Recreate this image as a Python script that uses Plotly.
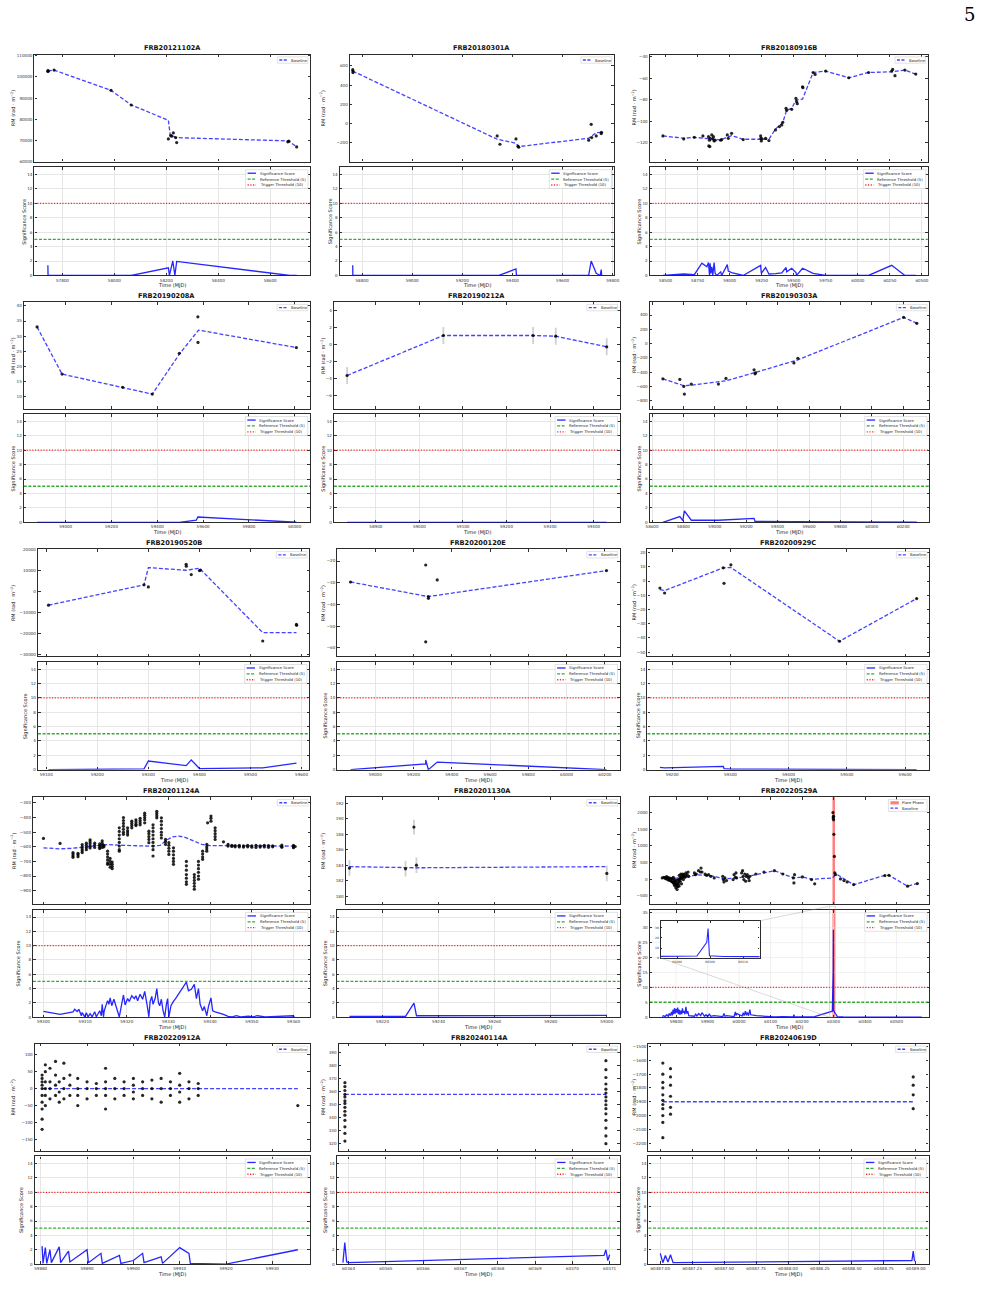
import plotly.graph_objects as go

W, H = 987, 1299
FONT = "DejaVu Sans"
BLUE_BASE = "rgba(20,20,255,0.8)"
BLUE_SIG = "rgba(0,0,255,0.85)"
GREEN = "rgba(0,150,0,0.8)"
RED = "rgba(255,0,0,0.85)"
FLARE = "rgba(255,0,0,0.5)"

# ---------------- FRB20121102A ----------------
p1_t = [57744, 57744.5, 57745, 57768, 57987, 58065, 58208, 58217, 58221, 58227, 58236, 58240, 58668, 58672, 58702]
p1_rm = [102600, 103000, 102800, 103240, 93650, 86730, 70690, 72260, 72000, 73520, 71320, 68960, 69300, 69600, 66920]
p1_base_t = [57744, 57768, 57987, 58065, 58208, 58215, 58227, 58236, 58670, 58702]
p1_base = [102770, 103240, 93650, 86730, 79500, 72500, 72000, 71300, 69750, 66920]
p1_sig_t = [57744, 57744.6, 57768, 57987, 58065, 58208, 58212, 58225, 58233, 58240, 58676, 58702]
p1_sig = [1.4, 0, 0, 0, 0, 1.05, 0, 2.0, 0, 1.95, 0, 0]

# ---------------- FRB20180301A ----------------
p2_t = [58763, 58763.5, 58764, 59339, 59350, 59414, 59422, 59425, 59704, 59714, 59716, 59734, 59754, 59755]
p2_rm = [560, 545, 530, -128, -214, -159, -234, -245, -172, -7, -145, -128, -103, -90]
p2_base_t = [58763, 59339, 59414, 59425, 59704, 59734, 59756]
p2_base = [545, -162, -203, -238, -152, -93, -90]
p2_sig_t = [58763, 58763.5, 59346, 59414, 59416, 59704, 59714, 59734, 59750, 59754, 59756]
p2_sig = [1.4, 0, 0, 0.9, 0, 0.05, 2.0, 0.3, 0, 0.8, 0]

# ---------------- FRB20180916B ----------------
p3_t = [58479.4, 58641.6, 58724.0, 58791.0, 58834.8, 58837.3, 58842.5, 58845.0, 58847.6, 58860.5,
        58868.2, 58873.4, 58878.5, 58886.3, 58930.0, 58937.8, 58981.5, 58989.3, 59015.0, 59105.1,
        59241.6, 59244.0, 59246.8, 59251.9, 59280.2, 59306.0, 59357.5, 59388.4, 59406.4, 59414.1,
        59439.9, 59445.0, 59483.7, 59517.1, 59522.3, 59527.4, 59568.6, 59571.2, 59651.0, 59666.5,
        59748.9, 59929.1, 60083.6, 60263.9, 60271.6, 60289.6, 60366.9, 60451.9]
p3_rm = [-113.5, -116.3, -114.8, -113.5, -114.2, -122.8, -117.5, -123.4, -115.7, -112.6,
         -116.3, -114.2, -118.2, -117.5, -117.5, -116.9, -112.6, -115.7, -111.1, -116.9,
         -113.5, -115.7, -118.2, -116.3, -115.7, -117.8, -108.0, -104.9, -103.4, -100.9,
         -88.0, -89.8, -88.9, -78.8, -81.8, -83.7, -68.0, -68.9, -54.8, -56.6,
         -53.5, -59.7, -54.8, -53.5, -52.0, -57.8, -52.6, -56.3]
p3_base_t = [58479.4, 58641.6, 58724.0, 58834.8, 58925.0, 59015.0, 59105.1, 59241.6, 59306.0, 59357.5, 59414.1,
             59445.0, 59483.7, 59517.1, 59568.6, 59651.0, 59748.9, 59929.1, 60083.6, 60263.9, 60366.9, 60451.9]
p3_base = [-113.5, -115.7, -114.8, -116.3, -117.2, -113.2, -116.6, -116.6, -116.6, -107.1, -101.2,
           -89.5, -88.0, -80.3, -79.4, -54.8, -53.5, -59.7, -54.8, -54.2, -52.6, -56.3]
p3_sig_t = [58479.4, 58641.6, 58724.0, 58783.2, 58821.9, 58834.8, 58842.5, 58847.6, 58852.8, 58860.5,
            58868.2, 58878.5, 58886.3, 58899.1, 58930.0, 58937.8, 58981.5, 58989.3, 59015.0, 59105.1,
            59241.6, 59246.8, 59280.2, 59306.0, 59357.5, 59406.4, 59439.9, 59445.0, 59483.7, 59517.1,
            59522.3, 59568.6, 59651.0, 59748.9, 59929.1, 60083.6, 60263.9, 60366.9, 60451.9]
p3_sig = [0, 0.2, 0.1, 1.7, 1.2, 1.8, 0, 1.7, 0.3, 1.2,
          0, 1.8, 0.3, 0, 0.5, 0, 1.5, 0.6, 0.4, 0,
          1.4, 0.3, 1.1, 0.2, 0.25, 0.35, 1.1, 0.5, 1.0, 0.4,
          0, 1.0, 0.3, 0, 0, 0, 1.4, 0, 0]

# ---------------- FRB20190208A ----------------
p4_t = [58875, 58984, 59249, 59378, 59496, 59577, 59577.5, 60007]
p4_rm = [33.05, 17.4, 13.0, 10.75, 24.3, 36.4, 27.9, 26.2]
p4_base_t = [58875, 58984, 59378, 59496, 59580, 60007]
p4_base = [33.05, 17.4, 10.75, 24.0, 32.0, 26.2]
p4_sig_t = [58875, 58984, 59249, 59378, 59496, 59570, 59577, 60007]
p4_sig = [0, 0, 0, 0, 0, 0.3, 0.75, 0.02]

# ---------------- FRB20190212A ----------------
p5_t = [58834, 59055, 59261, 59313, 59430]
p5_rm = [-3.65, 1.06, 1.06, 0.98, -0.27]
p5_err = [1.0, 1.0, 1.0, 1.0, 1.0]
p5_base = [-3.65, 1.06, 1.06, 0.98, -0.27]
p5_sig = [0, 0, 0, 0, 0]

# ---------------- FRB20190303A ----------------
p6_t = [58669, 58777, 58802, 58806, 58850, 59023, 59071, 59250, 59256, 59260, 59504, 59529, 60203, 60287]
p6_rm = [-493, -502, -600, -707, -567, -567, -488, -367, -423, -409, -270, -205, 367, 284]
p6_base_t = [58669, 58802, 58850, 59071, 59256, 59529, 60203, 60287]
p6_base = [-493, -590, -581, -521, -405, -228, 367, 284]
p6_sig_t = [58669, 58777, 58796, 58806, 58850, 59023, 59250, 59256, 59504, 60287]
p6_sig = [0, 0.8, 0.25, 1.6, 0.3, 0.3, 0.55, 0.15, 0.1, 0.02]

# ---------------- FRB20190520B ----------------
p7_t = [59104.5, 59291.5, 59300, 59374, 59374.3, 59384, 59400, 59402, 59524, 59590, 59590.3]
p7_rm = [-6490, 3160, 2200, 12970, 12030, 8070, 9970, 10200, -23580, -15660, -16100]
p7_base_t = [59104.5, 59291.5, 59300, 59374, 59400, 59524, 59590]
p7_base = [-6490, 3160, 11390, 10130, 11080, -19620, -19620]
p7_sig_t = [59104.5, 59291.5, 59300, 59374, 59384, 59400, 59524, 59590]
p7_sig = [0, 0.1, 1.2, 0.55, 1.35, 0.15, 0.25, 0.9]

# ---------------- FRB20200120E ----------------
p8_t = [58870.7, 59263.8, 59263.9, 59277.6, 59278, 59324, 60208.6]
p8_rm = [-29.66, -21.84, -57.24, -36.4, -37.2, -28.7, -24.4]
p8_base_t = [58870.7, 59277.6, 60208.6]
p8_base = [-29.66, -36.4, -24.4]
p8_sig_t = [58870.7, 59263.8, 59264, 59270, 59277.6, 59324, 60208.6]
p8_sig = [0, 0.8, 1.35, 0.6, 0, 1.05, 0]

# ---------------- FRB20200929C ----------------
p9_t = [59179, 59187, 59287.8, 59289, 59300.8, 59487.3, 59619.8]
p9_rm = [-4.9, -8.4, 9.3, -1.6, 11.4, -42.3, -12.3]
p9_base = [-6.0, -6.7, 9.3, 9.3, 9.5, -42.3, -12.3]
p9_sig = [0.3, 0.25, 0.45, 0.15, 0.08, 0.02, 0]

# ---------------- FRB20201124A ----------------
p10_groups = [
    (59300.0, [-543]), (59304.0, [-577]),
    (59307.1, [-640, -650, -662, -672]), (59308.3, [-645, -655, -668]),
    (59309.3, [-585, -600, -615, -628, -640]), (59310.3, [-575, -590, -605, -620]),
    (59311.2, [-552, -565, -580, -595, -608]), (59312.3, [-575, -590, -605]),
    (59313.5, [-580, -592, -604, -612]), (59314.1, [-560, -575, -590, -605]),
    (59314.5, [-590, -600]), (59315.4, [-630, -650, -670, -690, -710, -720]),
    (59316.0, [-680, -700, -720, -740]), (59316.5, [-705, -720, -735, -750]),
    (59318.2, [-470, -495, -520, -545, -570, -595, -620, -630]),
    (59319.2, [-400, -420, -440, -460, -480, -500, -515]),
    (59320.2, [-470, -490, -505, -520]), (59321.2, [-425, -440, -455, -470]),
    (59322.2, [-415, -430, -445, -455]), (59323.2, [-405, -420, -435, -450]),
    (59324.3, [-370, -385, -400, -415, -436]), (59325.3, [-493, -510, -530, -550, -572]),
    (59326.3, [-450, -470, -495, -520, -545, -570, -595, -620, -663]),
    (59327.2, [-357, -372, -387, -402]), (59328.3, [-402, -425, -450, -475, -500, -520, -540]),
    (59329.3, [-550, -565, -584]), (59330.1, [-572, -590, -610, -630, -652]),
    (59331.2, [-607, -630, -655, -680, -700, -720]),
    (59334.3, [-700, -730, -760, -790, -815, -840, -857]),
    (59336.2, [-790, -810, -830, -850, -870, -890]),
    (59337.2, [-700, -725, -750, -775, -800, -822]),
    (59338.2, [-630, -650, -670, -686]), (59339.2, [-584, -600, -615, -630]),
    (59339.4, [-436]), (59340.2, [-390, -405, -425]), (59341.2, [-470, -490, -510, -530, -550]),
    (59343.2, [-566]), (59344.3, [-584, -595]), (59345.2, [-590, -598]), (59346.0, [-592, -600]),
    (59347.0, [-591, -601]), (59348.0, [-594, -602]), (59349.0, [-590, -600]), (59350.0, [-593, -603]),
    (59351.0, [-591, -605]), (59352.0, [-594, -602]), (59353.0, [-590, -601]), (59354.0, [-592, -604]),
    (59355.0, [-593, -600]), (59357.2, [-588, -598, -604]), (59360.0, [-590, -600, -606]), (59360.4, [-598]),
]
p10_base_t = [59300, 59304, 59307, 59310, 59313.5, 59315.5, 59318, 59322, 59326, 59328, 59329.5, 59331,
              59332.5, 59334, 59336, 59338, 59340, 59344, 59350, 59360.4]
p10_base = [-607, -614, -610, -600, -588, -585, -589, -594, -596, -590, -555, -532,
            -527, -535, -560, -584, -592, -594, -594, -595]
p10_sig_t = [59300.0, 59304.0, 59307.1, 59307.5, 59308.1, 59308.5, 59309.1, 59309.3, 59309.9, 59310.3,
             59310.7, 59311.2, 59311.7, 59312.3, 59312.7, 59313.5, 59313.9, 59314.1, 59314.4, 59314.6,
             59315.2, 59315.4, 59315.7, 59316.0, 59316.4, 59316.9, 59318.2, 59318.7, 59319.2, 59319.6,
             59320.2, 59320.6, 59321.2, 59321.8, 59322.2, 59322.6, 59323.2, 59323.8, 59324.3, 59324.9,
             59325.3, 59325.6, 59326.0, 59326.3, 59326.8, 59327.2, 59327.6, 59327.9, 59328.3, 59328.7,
             59329.1, 59329.5, 59329.8, 59330.1, 59330.6, 59331.2, 59331.7, 59334.3, 59334.8, 59335.5,
             59336.2, 59336.7, 59337.2, 59337.6, 59338.2, 59338.6, 59339.2, 59339.6, 59340.2, 59340.6,
             59341.2, 59343.2, 59344.3, 59345.3, 59346.3, 59347.3, 59349.2, 59350.3, 59351.3, 59353.2,
             59357.2, 59360.0, 59360.2]
p10_sig = [0.8, 0.4, 0.75, 1.1, 0.8, 1.1, 0.2, 0.65, 0.05, 0.6,
           0.05, 0.5, 0.05, 0.75, 0.05, 0.9, 0.2, 1.8, 0.05, 0.9,
           2.0, 2.3, 1.8, 2.7, 1.6, 2.5, 0.05, 1.5, 3.1, 1.7,
           2.6, 2.2, 3.0, 2.6, 3.0, 2.3, 3.2, 2.5, 3.6, 1.6,
           0.05, 2.2, 2.9, 1.8, 2.6, 4.0, 2.0, 1.6, 2.5, 0.9,
           0.05, 1.8, 2.6, 0.05, 1.6, 2.2, 2.6, 4.9, 3.7, 3.9,
           4.6, 2.6, 4.0, 1.8, 0.9, 1.5, 0.2, 1.5, 2.7, 0.9,
           0.75, 0.4, 0.1, 0.05, 0.2, 0.05, 0.15, 0.05, 0.2, 0.05,
           0.1, 0.2, 0.05]

# ---------------- FRB20201130A ----------------
p11_t = [59208.2, 59228.2, 59231.2, 59232.1, 59300]
p11_rm = [183.66, 183.57, 188.95, 184.04, 182.97]
p11_err = [1.0, 1.0, 0.95, 1.0, 1.0]
p11_base = [183.85, 183.7, 183.7, 183.7, 183.85]
p11_sig = [0.1, 0.1, 1.95, 0.2, 0.25]

# ---------------- FRB20220529A ----------------
p12_groups = [
    (59756, [40]), (59761, [59]), (59766, [20, 60]), (59770, [79, 10]), (59774, [-10, 50]), (59777, [40, -30]),
    (59782, [-40, 30]), (59785, [10, -60]), (59788, [-79, 20]), (59791, [59, -100]), (59793, [-138, 0]),
    (59795, [-188, -50]), (59797, [-59, -150]), (59799, [-257, -100]), (59801, [-158, -30]), (59803, [-306, -200]),
    (59805, [-109, -220]), (59807, [-10, -150]), (59809, [-207, -80]), (59810, [119, 0]), (59813, [-59, 50]),
    (59815, [158, 20]), (59817, [-138, 60]), (59819, [40, 120]), (59821, [158, 80]), (59823, [-10, 100]),
    (59825, [89, 150]), (59828, [59]), (59831, [188, 100]), (59835, [138]), (59838, [217]), (59840, [89]),
    (59858, [188]), (59861, [138]), (59864, [158]), (59871, [257]), (59877, [217]), (59879, [336]), (59882, [217]),
    (59892, [158]), (59897, [119]), (59903, [138]), (59910, [89]), (59921, [40]),
    (59948, [89]), (59950, [-10]), (59952, [-79]), (59955, [40]), (59960, [-40]),
    (59981, [-10]), (59984, [138]), (59988, [59]), (59990, [188]), (59992, [40]),
    (60008, [188]), (60011, [257]), (60013, [89]), (60015, [-10]), (60018, [158]), (60021, [-59]),
    (60023, [89]), (60026, [138]), (60030, [40]), (60032, [-40]), (60034, [89]),
    (60053, [158]), (60079, [217]), (60112, [257]), (60139, [158]), (60172, [40]), (60174, [-109]), (60176, [138]),
    (60201, [69]), (60230, [-10]), (60240, [-138]),
    (60298, [1996]), (60299, [1867, 1818]), (60300, [1887, 1780]), (60301, [1344]), (60302.5, [682]),
    (60304, [188]), (60306, [138]),
    (60322, [10]), (60333, [-40]), (60343, [-79]), (60364, [-158]), (60463, [109]), (60476, [119]),
    (60535, [-207]), (60566, [-128]),
]
p12_base_t = [59756, 59782, 59833, 59864, 59921, 59950, 59992, 60026, 60053, 60112, 60139, 60174, 60201, 60230,
              60297, 60306, 60312, 60364, 60463, 60476, 60535, 60566]
p12_base = [40, 20, 59, 138, 89, 10, 40, 79, 138, 257, 158, 40, 69, 0,
            40, 138, 138, -165, 119, 119, -207, -128]
p12_sig_t = [59756, 59760, 59765, 59770, 59775, 59778, 59782, 59785, 59788, 59790, 59792, 59795, 59797, 59800,
             59802, 59805, 59807, 59810, 59812, 59815, 59818, 59820, 59822, 59825, 59828, 59831, 59834, 59837,
             59840, 59858, 59862, 59866, 59872, 59878, 59882, 59890, 59895, 59900, 59905, 59910, 59920, 59948,
             59952, 59955, 59960, 59984, 59988, 59990, 59993, 60010, 60013, 60016, 60020, 60023, 60026, 60030,
             60034, 60037, 60055, 60080, 60112, 60139, 60172, 60174, 60176, 60200, 60230, 60240, 60296, 60299.0,
             60299.4, 60299.8, 60304, 60312, 60330, 60370, 60470, 60566, 60580]
p12_sig = [0.2, 0.5, 0.2, 0.8, 0.3, 1.2, 0.5, 1.8, 0.6, 2.5, 1.0, 3.0, 1.2, 2.8,
           1.5, 3.2, 1.0, 2.5, 0.8, 2.2, 1.0, 3.0, 1.5, 2.0, 1.0, 3.5, 1.2, 2.0,
           0.5, 0.3, 1.0, 0.4, 1.2, 0.5, 1.5, 0.3, 0.8, 0.2, 1.0, 0.3, 0.5, 0.2,
           1.2, 0.3, 0.5, 0.2, 1.8, 0.6, 1.2, 0.4, 1.5, 0.5, 2.0, 0.6, 1.6, 0.5,
           2.5, 0.8, 0.5, 0.3, 0.1, 0.2, 0.1, 0.8, 0.1, 0.1, 0.3, 0.2, 2.0, 15.7,
           29.3, 2.3, 1.5, 0.2, 0.1, 0.1, 0.05, 0.05, 0]
p12_flare = [60296.5, 60304.5]

# ---------------- FRB20220912A ----------------
p13_groups = [
    (59880.3, [-120, -90, -60, -40, -20, 0, 10, 20, 30, 40]), (59881.0, [-50, -20, 0, 20, 50, 70]),
    (59882.0, [-30, 0, 20, 60]), (59883.2, [-20, 10, 40, 80]), (59884.0, [-40, -10, 20]),
    (59885.0, [-30, 0, 30, 75]), (59886.3, [-20, 10, 40]), (59888.0, [-50, -20, 0, 30]),
    (59890.0, [-30, 0, 20]), (59892.0, [-20, 0, 15]), (59894.0, [-60, -20, 0, 20, 60]),
    (59896.0, [-30, 0, 30]), (59898.0, [-20, 0, 20]), (59900.0, [-30, -10, 10, 30]),
    (59902.0, [-20, 0, 20]), (59904.0, [-30, 0, 25]), (59906.0, [-40, 0, 30]), (59908.0, [-20, 0, 20]),
    (59910.0, [-40, -10, 10, 45]), (59912.0, [-30, 0, 20]), (59914.0, [-20, 0, 15]), (59935.5, [-50]),
]
p13_base_t = [59880.3, 59935.5]
p13_base = [0, 0]
p13_sig_t = [59880.3, 59880.5, 59881.0, 59881.3, 59882.0, 59882.3, 59884.0, 59884.3, 59886.0, 59886.3, 59890.0,
             59890.3, 59893.0, 59893.3, 59897.0, 59897.3, 59900.0, 59902.0, 59902.3, 59906.0, 59906.3, 59910.0,
             59912.0, 59912.3, 59920.0, 59935.5]
p13_sig = [2.5, 0.1, 2.3, 0.1, 2.0, 0.2, 2.4, 0.2, 1.8, 0.3, 2.0,
           0.2, 1.5, 0.1, 1.2, 0.1, 0.5, 1.5, 0.2, 1.0, 0.1, 2.3,
           1.5, 0.1, 0.0, 2.0]

# ---------------- FRB20240114A ----------------
p14_groups = [
    (60363.9, [322, 328, 333, 338, 342, 345, 348, 351, 353, 356, 358, 361, 364, 367]),
    (60370.9, [320, 326, 332, 338, 343, 347, 350, 353, 356, 359, 362, 366, 371, 377, 384, 392]),
]
p14_base_t = [60363.9, 60370.9]
p14_base = [358, 358]
p14_sig_t = [60363.85, 60363.9, 60363.95, 60364.0, 60370.85, 60370.9, 60370.95, 60371.0]
p14_sig = [0.2, 3.0, 0.3, 0.2, 1.2, 2.0, 0.5, 1.3]

# ---------------- FRB20240619D ----------------
p15_groups = [
    (60487.02, [-1620, -1700, -1760, -1800, -1850, -1890, -1920, -1950, -2000, -2050, -2160]),
    (60487.08, [-1660, -1720, -1780, -1860, -1940, -1990]),
    (60488.98, [-1720, -1780, -1850, -1950]),
]
p15_base_t = [60487.02, 60488.98]
p15_base = [-1900, -1900]
p15_sig_t = [60487.0, 60487.02, 60487.04, 60487.06, 60487.08, 60487.1, 60488.97, 60488.98, 60488.99]
p15_sig = [1.5, 0.2, 1.2, 0.3, 1.3, 0.2, 0.5, 1.8, 0.4]


def flatten(groups):
    ts, vs = [], []
    for t, vals in groups:
        for v in vals:
            ts.append(t)
            vs.append(v)
    return ts, vs


p10_t, p10_rm = flatten(p10_groups)
p12_t, p12_rm = flatten(p12_groups)
p13_t, p13_rm = flatten(p13_groups)
p14_t, p14_rm = flatten(p14_groups)
p15_t, p15_rm = flatten(p15_groups)

SIG_YT = [0, 2, 4, 6, 8, 10, 12, 14]

ROW_RM = [(52.7, 160.0), (301.0, 408.3), (549.0, 656.5), (797.7, 905.0), (1045.0, 1153.0)]
ROW_SIG = [(165.7, 274.3), (413.3, 522.0), (662.0, 770.0), (910.7, 1018.3), (1158.0, 1266.0)]

PANELS = [
    dict(title="FRB20121102A", row=0, rm_x=(30.7, 309.3), sig_x=(30.7, 309.3),
         rm_xr=(57692, 58754), sig_xr=(57692, 58754), rm_yr=(60000, 110600),
         rm_yt=[60000, 70000, 80000, 90000, 100000, 110000], xt=[57800, 58000, 58200, 58400, 58600],
         rm_lab=9.3, sig_lab=20.7, t=p1_t, rm=p1_rm, err=None, bt=p1_base_t, b=p1_base, st=p1_sig_t, s=p1_sig),
    dict(title="FRB20180301A", row=0, rm_x=(349.3, 616.0), sig_x=(339.0, 616.0),
         rm_xr=(58751, 59804), sig_xr=(58710.5, 59804), rm_yr=(-393, 717),
         rm_yt=[-200, 0, 200, 400, 600], xt=[58800, 59000, 59200, 59400, 59600, 59800],
         rm_lab=321.7, sig_lab=329.3, t=p2_t, rm=p2_rm, err=None, bt=p2_base_t, b=p2_base, st=p2_sig_t, s=p2_sig),
    dict(title="FRB20180916B", row=0, rm_x=(652.3, 933.3), sig_x=(652.3, 933.3),
         rm_xr=(58376, 60546), sig_xr=(58376, 60546), rm_yr=(-137.2, -38.2),
         rm_yt=[-120, -100, -80, -60, -40], xt=[58500, 58750, 59000, 59250, 59500, 59750, 60000, 60250, 60500],
         rm_lab=636.0, sig_lab=641.7, t=p3_t, rm=p3_rm, err=None, bt=p3_base_t, b=p3_base, st=p3_sig_t, s=p3_sig),
    dict(title="FRB20190208A", row=1, rm_x=(20.0, 309.0), sig_x=(20.0, 309.0),
         rm_xr=(58817, 60066), sig_xr=(58817, 60066), rm_yr=(5.8, 41.3),
         rm_yt=[10, 15, 20, 25, 30, 35, 40], xt=[59000, 59200, 59400, 59600, 59800, 60000],
         rm_lab=8.3, sig_lab=9.3, t=p4_t, rm=p4_rm, err=None, bt=p4_base_t, b=p4_base, st=p4_sig_t, s=p4_sig),
    dict(title="FRB20190212A", row=1, rm_x=(333.3, 622.0), sig_x=(333.3, 622.0),
         rm_xr=(58803.8, 59459.8), sig_xr=(58803.8, 59459.8), rm_yr=(-7.6, 5.0),
         rm_yt=[-6, -4, -2, 0, 2, 4], xt=[58900, 59000, 59100, 59200, 59300, 59400],
         rm_lab=321.7, sig_lab=322.7, t=p5_t, rm=p5_rm, err=p5_err, bt=p5_t, b=p5_base, st=p5_t, s=p5_sig),
    dict(title="FRB20190303A", row=1, rm_x=(652.3, 934.7), sig_x=(652.3, 934.7),
         rm_xr=(58585, 60366), sig_xr=(58585, 60366), rm_yr=(-916, 581),
         rm_yt=[-800, -600, -400, -200, 0, 200, 400],
         xt=[58600, 58800, 59000, 59200, 59400, 59600, 59800, 60000, 60200],
         rm_lab=636.0, sig_lab=641.7, t=p6_t, rm=p6_rm, err=None, bt=p6_base_t, b=p6_base, st=p6_sig_t, s=p6_sig),
    dict(title="FRB20190520B", row=2, rm_x=(34.3, 308.3), sig_x=(34.3, 308.3),
         rm_xr=(59083.8, 59614.9), sig_xr=(59083.8, 59614.9), rm_yr=(-30950, 20100),
         rm_yt=[-30000, -20000, -10000, 0, 10000, 20000], xt=[59100, 59200, 59300, 59400, 59500, 59600],
         rm_lab=9.3, sig_lab=21.7, t=p7_t, rm=p7_rm, err=None, bt=p7_base_t, b=p7_base, st=p7_sig_t, s=p7_sig),
    dict(title="FRB20200120E", row=2, rm_x=(336.7, 622.0), sig_x=(336.7, 622.0),
         rm_xr=(58801.7, 60277.6), sig_xr=(58801.7, 60277.6), rm_yr=(-64, -14.6),
         rm_yt=[-60, -50, -40, -30, -20], xt=[59000, 59200, 59400, 59600, 59800, 60000, 60200],
         rm_lab=321.7, sig_lab=325.0, t=p8_t, rm=p8_rm, err=None, bt=p8_base_t, b=p8_base, st=p8_sig_t, s=p8_sig),
    dict(title="FRB20200929C", row=2, rm_x=(650.0, 934.7), sig_x=(650.0, 934.7),
         rm_xr=(59157.5, 59641.4), sig_xr=(59157.5, 59641.4), rm_yr=(-53, 22.3),
         rm_yt=[-50, -40, -30, -20, -10, 0, 10, 20], xt=[59200, 59300, 59400, 59500, 59600],
         rm_lab=636.0, sig_lab=641.0, t=p9_t, rm=p9_rm, err=None, bt=p9_t, b=p9_base, st=p9_t, s=p9_sig),
    dict(title="FRB20201124A", row=3, rm_x=(29.3, 309.3), sig_x=(29.3, 309.3),
         rm_xr=(59297.5, 59364), sig_xr=(59297.5, 59364), rm_yr=(-993, -261),
         rm_yt=[-900, -800, -700, -600, -500, -400, -300], xt=[59300, 59310, 59320, 59330, 59340, 59350, 59360],
         rm_lab=9.3, sig_lab=15.0, t=p10_t, rm=p10_rm, err=None, bt=p10_base_t, b=p10_base, st=p10_sig_t, s=p10_sig),
    dict(title="FRB20201130A", row=3, rm_x=(345.0, 622.0), sig_x=(336.0, 622.0),
         rm_xr=(59206.8, 59304.6), sig_xr=(59203.6, 59304.6), rm_yr=(179.0, 192.8),
         rm_yt=[180, 182, 184, 186, 188, 190, 192], xt=[59220, 59240, 59260, 59280, 59300],
         rm_lab=321.7, sig_lab=325.0, t=p11_t, rm=p11_rm, err=p11_err, bt=p11_t, b=p11_base, st=p11_t, s=p11_sig),
    dict(title="FRB20220529A", row=3, rm_x=(652.3, 934.7), sig_x=(652.3, 934.7),
         rm_xr=(59716, 60603.8), sig_xr=(59716, 60603.8), rm_yr=(-747, 2455),
         rm_yt=[-500, 0, 500, 1000, 1500, 2000], xt=[59800, 59900, 60000, 60100, 60200, 60300, 60400, 60500],
         rm_lab=636.0, sig_lab=641.7, t=p12_t, rm=p12_rm, err=None, bt=p12_base_t, b=p12_base, st=p12_sig_t,
         s=p12_sig, sig_yr=(0, 36), sig_yt=[0, 5, 10, 15, 20, 25, 30, 35]),
    dict(title="FRB20220912A", row=4, rm_x=(31.0, 309.0), sig_x=(31.0, 309.0),
         rm_xr=(59878.7, 59938.1), sig_xr=(59878.7, 59938.1), rm_yr=(-185, 132),
         rm_yt=[-150, -100, -50, 0, 50, 100], xt=[59880, 59890, 59900, 59910, 59920, 59930],
         rm_lab=9.0, sig_lab=17.0, t=p13_t, rm=p13_rm, err=None, bt=p13_base_t, b=p13_base, st=p13_sig_t, s=p13_sig),
    dict(title="FRB20240114A", row=4, rm_x=(338.0, 622.0), sig_x=(336.0, 622.0),
         rm_xr=(60363.73, 60371.27), sig_xr=(60363.68, 60371.27), rm_yr=(314, 397),
         rm_yt=[320, 330, 340, 350, 360, 370, 380, 390],
         xt=[60364, 60365, 60366, 60367, 60368, 60369, 60370, 60371],
         rm_lab=322.0, sig_lab=325.0, t=p14_t, rm=p14_rm, err=None, bt=p14_base_t, b=p14_base, st=p14_sig_t, s=p14_sig),
    dict(title="FRB20240619D", row=4, rm_x=(651.0, 934.0), sig_x=(651.0, 934.0),
         rm_xr=(60486.907, 60489.1), sig_xr=(60486.907, 60489.1), rm_yr=(-2260, -1480),
         rm_yt=[-2200, -2100, -2000, -1900, -1800, -1700, -1600, -1500],
         xt=[60487.0, 60487.25, 60487.5, 60487.75, 60488.0, 60488.25, 60488.5, 60488.75, 60489.0], xfmt=".2f",
         rm_lab=636.0, sig_lab=641.0, t=p15_t, rm=p15_rm, err=None, bt=p15_base_t, b=p15_base, st=p15_sig_t, s=p15_sig),
]

fig = go.Figure()
layout = {}
shapes = []
annotations = []


def px_x(px):
    return px / W


def px_y(py):
    return 1 - py / H


def add_axes(n, xdom, ydom, xr, yr, xtv, ytv, xfmt, yfmt, show_x, grid, tick_fs=4.1, layer="below traces"):
    xk = "xaxis" if n == 1 else f"xaxis{n}"
    yk = "yaxis" if n == 1 else f"yaxis{n}"
    xa = "x" if n == 1 else f"x{n}"
    ya = "y" if n == 1 else f"y{n}"
    common = dict(ticks="inside", ticklen=2.5, tickwidth=0.7, tickcolor="#333333",
                  mirror="allticks", showline=True, linewidth=1.3, linecolor="#2b2b2b",
                  zeroline=False, showgrid=grid, gridcolor="#e6e6e6", gridwidth=0.6,
                  tickfont=dict(family=FONT, size=tick_fs, color="#333333"), fixedrange=True, layer=layer)
    layout[xk] = dict(common, domain=[px_x(xdom[0]), px_x(xdom[1])], range=list(xr), tickvals=xtv,
                      tickformat=xfmt, showticklabels=show_x, anchor=ya)
    layout[yk] = dict(common, domain=[px_y(ydom[1]), px_y(ydom[0])], range=list(yr), tickvals=ytv,
                      tickformat=yfmt, anchor=xa)
    return xa, ya


def legend_box(right, top, width, entries, row_h, fs=3.8):
    x0 = right - width
    y1 = top + row_h * len(entries) + 1.2
    shapes.append(dict(type="rect", xref="paper", yref="paper", x0=px_x(x0), x1=px_x(right),
                       y0=px_y(y1), y1=px_y(top), line=dict(color="#cfcfcf", width=0.6),
                       fillcolor="rgba(255,255,255,0.9)", layer="above"))
    for k, (label, kind, color, dash) in enumerate(entries):
        yc = top + 0.6 + row_h * (k + 0.5)
        lx0, lx1 = x0 + 2.0, x0 + 10.5
        if kind == "patch":
            shapes.append(dict(type="rect", xref="paper", yref="paper", x0=px_x(lx0), x1=px_x(lx1),
                               y0=px_y(yc + 1.6), y1=px_y(yc - 1.6), line=dict(width=0),
                               fillcolor=color, layer="above"))
        else:
            shapes.append(dict(type="line", xref="paper", yref="paper", x0=px_x(lx0), x1=px_x(lx1),
                               y0=px_y(yc), y1=px_y(yc), line=dict(color=color, width=1.3, dash=dash),
                               layer="above"))
        annotations.append(dict(x=px_x(lx1 + 1.5), y=px_y(yc), xref="paper", yref="paper", text=label,
                                showarrow=False, xanchor="left", yanchor="middle",
                                font=dict(family=FONT, size=fs, color="#222222")))


for i, p in enumerate(PANELS):
    nr, ns = 2 * i + 1, 2 * i + 2
    r = p["row"]
    xfmt = p.get("xfmt", "d")
    rm_top, rm_bot = ROW_RM[r]
    sg_top, sg_bot = ROW_SIG[r]
    xa, ya = add_axes(nr, p["rm_x"], ROW_RM[r], p["rm_xr"], p["rm_yr"], p["xt"], p["rm_yt"],
                      xfmt, "d", False, False)
    xs, ys = add_axes(ns, p["sig_x"], ROW_SIG[r], p["sig_xr"], p.get("sig_yr", (0, 15)), p["xt"],
                      p.get("sig_yt", SIG_YT), xfmt, "d", True, i != 11)

    # RM panel
    if p["err"] is not None:
        fig.add_trace(go.Scatter(x=p["t"], y=p["rm"], mode="markers", xaxis=xa, yaxis=ya, showlegend=False,
                                 marker=dict(color="rgba(0,0,0,0)", size=1),
                                 error_y=dict(type="data", array=p["err"], color="rgba(170,170,170,0.55)",
                                              thickness=1.8, width=0)))
    fig.add_trace(go.Scatter(x=p["bt"], y=p["b"], mode="lines", xaxis=xa, yaxis=ya, showlegend=False,
                             line=dict(color=BLUE_BASE, width=1.3, dash="4px,2px")))
    fig.add_trace(go.Scatter(x=p["t"], y=p["rm"], mode="markers", xaxis=xa, yaxis=ya, showlegend=False,
                             marker=dict(color="rgba(0,0,0,0.85)", size=3.2, line=dict(width=0))))
    # Significance panel
    fig.add_trace(go.Scatter(x=p["st"], y=p["s"], mode="lines", xaxis=xs, yaxis=ys, showlegend=False,
                             line=dict(color=BLUE_SIG, width=1.3)))
    for lvl, col, dash in [(5, GREEN, "3px,1.6px"), (10, RED, "1.2px,1.6px")]:
        shapes.append(dict(type="line", xref=f"{xs} domain", yref=ys, x0=0, x1=1, y0=lvl, y1=lvl,
                           line=dict(color=col, width=1.3, dash=dash), layer="above"))

    # texts
    cx = (p["rm_x"][0] + p["rm_x"][1]) / 2
    annotations.append(dict(x=px_x(cx), y=px_y(rm_top - 6.3), xref="paper", yref="paper",
                            text=f"<b>{p['title']}</b>", showarrow=False, xanchor="center", yanchor="middle",
                            font=dict(family=FONT, size=6.6, color="#111111")))
    annotations.append(dict(x=px_x(p["rm_lab"]), y=px_y((rm_top + rm_bot) / 2), xref="paper", yref="paper",
                            text="RM (rad · m<sup>−2</sup>)", showarrow=False, textangle=-90,
                            xanchor="center", yanchor="middle", font=dict(family=FONT, size=5.0, color="#222222")))
    annotations.append(dict(x=px_x(p["sig_lab"]), y=px_y((sg_top + sg_bot) / 2), xref="paper", yref="paper",
                            text="Significance Score", showarrow=False, textangle=-90,
                            xanchor="center", yanchor="middle", font=dict(family=FONT, size=5.0, color="#222222")))
    scx = (p["sig_x"][0] + p["sig_x"][1]) / 2
    annotations.append(dict(x=px_x(scx), y=px_y(sg_bot + 10.0), xref="paper", yref="paper",
                            text="Time (MJD)", showarrow=False, xanchor="center", yanchor="middle",
                            font=dict(family=FONT, size=5.0, color="#222222")))

    # legends
    if i == 11:
        legend_box(p["rm_x"][1] - 2.2, rm_top + 2.3, 39,
                   [("Flare Phase", "patch", FLARE, None), ("Baseline", "line", BLUE_BASE, "3px,1.5px")], 5.4)
    else:
        legend_box(p["rm_x"][1] - 2.2, rm_top + 2.3, 31, [("Baseline", "line", BLUE_BASE, "3px,1.5px")], 5.2)
    legend_box(p["sig_x"][1] - 2.2, sg_top + 2.5, 63,
               [("Significance Score", "line", BLUE_SIG, "solid"),
                ("Reference Threshold (5)", "line", GREEN, "3px,1.5px"),
                ("Trigger Threshold (10)", "line", RED, "1.2px,1.5px")], 5.9)

    if i == 11:
        for ax in [(xa, ya), (xs, ys)]:
            shapes.append(dict(type="rect", xref=ax[0], yref=f"{ax[1]} domain", x0=p12_flare[0], x1=p12_flare[1],
                               y0=0, y1=1, fillcolor=FLARE, line=dict(width=0), layer="below"))

# ---- manual grid for FRB20220529A significance panel (so the inset can cover it) ----
P12 = PANELS[11]
for v in P12["xt"]:
    shapes.append(dict(type="line", xref="x24", yref="y24 domain", x0=v, x1=v, y0=0, y1=1,
                       line=dict(color="#e6e6e6", width=0.6), layer="below"))
for v in P12["sig_yt"]:
    shapes.append(dict(type="line", xref="x24 domain", yref="y24", x0=0, x1=1, y0=v, y1=v,
                       line=dict(color="#e6e6e6", width=0.6), layer="below"))

# ---- inset of the flare ----
INS_X = (663.3, 763.3)
INS_Y = (921.7, 959.0)
INS_XR = (60285.0, 60315.0)
shapes.append(dict(type="rect", xref="paper", yref="paper", x0=px_x(INS_X[0]), x1=px_x(INS_X[1]),
                   y0=px_y(INS_Y[1]), y1=px_y(INS_Y[0]), fillcolor="white", line=dict(width=0), layer="below"))
xi, yi = add_axes(31, INS_X, INS_Y, INS_XR, (0, 37), [60290, 60300, 60310], [0, 10, 20, 30], "d", "d",
                  True, False, tick_fs=3.0, layer="above traces")
layout["xaxis31"]["ticklen"] = 1.5
layout["yaxis31"]["ticklen"] = 1.5
shapes.append(dict(type="rect", xref=xi, yref=f"{yi} domain", x0=p12_flare[0], x1=p12_flare[1], y0=0, y1=1,
                   fillcolor=FLARE, line=dict(width=0), layer="below"))
for lvl, col in [(5, GREEN), (10, RED)]:
    shapes.append(dict(type="line", xref=f"{xi} domain", yref=yi, x0=0, x1=1, y0=lvl, y1=lvl,
                       line=dict(color=col, width=0.8), layer="below"))
fig.add_trace(go.Scatter(x=p12_sig_t, y=p12_sig, mode="lines", xaxis=xi, yaxis=yi, showlegend=False,
                         line=dict(color=BLUE_SIG, width=1.1)))
# zoom indicator and connectors (pixel geometry of the indicated region)
REG_X = (834.0, 840.0)
REG_Y = (907.0, 1018.3)
shapes.append(dict(type="rect", xref="paper", yref="paper", x0=px_x(REG_X[0]), x1=px_x(REG_X[1]),
                   y0=px_y(REG_Y[1]), y1=px_y(REG_Y[0]), line=dict(color="rgba(150,150,150,0.6)", width=0.6),
                   layer="above"))
for (ax0, ay0, bx0, by0) in [(INS_X[1], INS_Y[0], REG_X[0], REG_Y[0]), (INS_X[0], INS_Y[1], REG_X[0], REG_Y[1])]:
    shapes.append(dict(type="line", xref="paper", yref="paper", x0=px_x(ax0), y0=px_y(ay0), x1=px_x(bx0),
                       y1=px_y(by0), line=dict(color="rgba(150,150,150,0.6)", width=0.6), layer="above"))

# page number
annotations.append(dict(x=px_x(975), y=px_y(13), xref="paper", yref="paper", text="5", showarrow=False,
                        xanchor="center", yanchor="middle", font=dict(family="DejaVu Serif", size=18, color="#000")))

fig.update_layout(**layout)
fig.update_layout(width=W, height=H, margin=dict(l=0, r=0, t=0, b=0), paper_bgcolor="white",
                  plot_bgcolor="white", showlegend=False, shapes=shapes, annotations=annotations,
                  font=dict(family=FONT))
fig.write_html("out.html")
